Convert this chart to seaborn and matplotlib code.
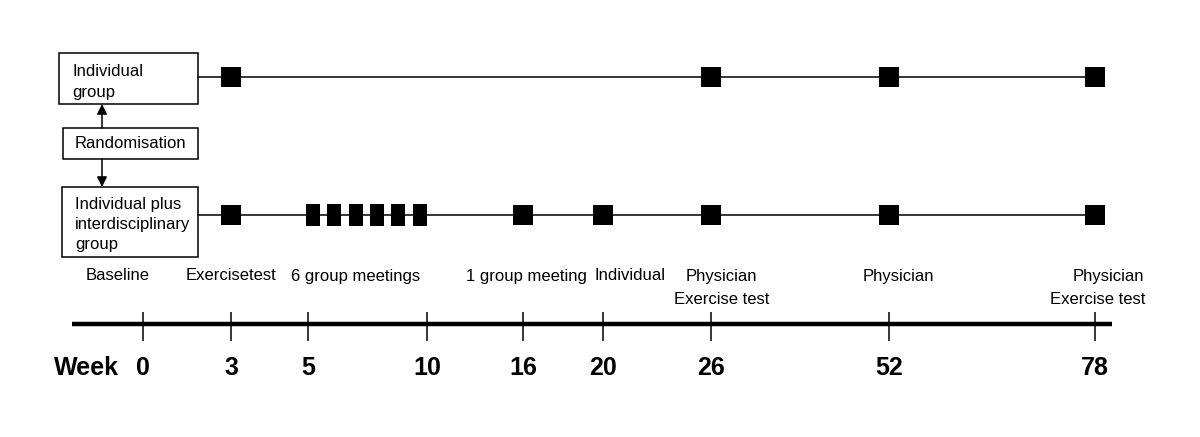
"""
Study design timeline: two randomised arms with visits plotted along a week axis.
Saves out.png.
"""

import numpy as np
import pandas as pd
import matplotlib.pyplot as plt
import seaborn as sns
from matplotlib.patches import Rectangle
from matplotlib.path import Path

# --- data -------------------------------------------------------------------
week_ticks = [0, 3, 5, 10, 16, 20, 26, 52, 78]
individual_visits = [3, 26, 52, 78]
combined_visits = [3, 16, 20, 26, 52, 78]
group_meetings = [5.2, 6.1, 7.0, 7.9, 8.8, 9.7]

event_labels = ["Baseline", "Exercisetest", "6 group meetings", "1 group meeting",
                "Individual", "Physician", "Physician", "Physician"]
event_weeks = [0, 3, 5, 16, 20, 26, 52, 78]
second_labels = ["Exercise test", "Exercise test"]
second_weeks = [26, 78]

box_labels = [["Individual", "group"],
              ["Randomisation"],
              ["Individual plus", "interdisciplinary", "group"]]

# --- layout -----------------------------------------------------------------
# the week axis is not linear: pixel position of each tick week on the canvas
tick_px = [143, 231, 308, 427, 523, 603, 711, 889, 1095]
event_dx = [-25, 0, 48, 3, 27, 10, 9, 13]   # label nudges, pixels
second_dx = [11, 3]

W = np.array(week_ticks, dtype=float)
P = np.array(tick_px, dtype=float)
lo_slope = (P[1] - P[0]) / (W[1] - W[0])
hi_slope = (P[-1] - P[-2]) / (W[-1] - W[-2])
W_ext = np.r_[W[0] - 20, W, W[-1] + 40]
P_ext = np.r_[P[0] - 20 * lo_slope, P, P[-1] + 40 * hi_slope]


def week_to_px(w):
    return np.interp(w, W_ext, P_ext)


def px_to_week(p):
    return np.interp(p, P_ext, W_ext)


Y_TOP, Y_BOTTOM = 77, 215
Y_EVENT, Y_EVENT2 = 276, 300
Y_AXIS, Y_WEEK = 324, 368
WEEK_FONT = dict(fontsize=18, fontweight="bold",
                 family=["Liberation Sans Narrow", "Liberation Sans"])

sns.set_theme(style="white")
plt.rcParams["font.family"] = ["Liberation Sans", "DejaVu Sans"]
plt.rcParams["text.color"] = "black"

fig = plt.figure(figsize=(12, 4.37), dpi=100)
ax = fig.add_axes([0, 0, 1, 1])
ax.set_xscale("function", functions=(week_to_px, px_to_week))

# arm lines, starting at the right edge of the boxes
line_start = px_to_week(198)
ax.plot([line_start, 78], [Y_TOP, Y_TOP], color="black", lw=1.1, zorder=1)
ax.plot([line_start, 78], [Y_BOTTOM, Y_BOTTOM], color="black", lw=1.1, zorder=1)

top_df = pd.DataFrame({"week": individual_visits, "y": Y_TOP})
bottom_df = pd.DataFrame({"week": combined_visits, "y": Y_BOTTOM})
meet_df = pd.DataFrame({"week": group_meetings, "y": Y_BOTTOM})

sns.scatterplot(data=top_df, x="week", y="y", marker="s", s=228,
                color="black", linewidth=0, legend=False, ax=ax, zorder=3)
sns.scatterplot(data=bottom_df, x="week", y="y", marker="s", s=228,
                color="black", linewidth=0, legend=False, ax=ax, zorder=3)
tall = Path([(-0.3, -0.5), (0.3, -0.5), (0.3, 0.5), (-0.3, 0.5), (-0.3, -0.5)],
            [Path.MOVETO, Path.LINETO, Path.LINETO, Path.LINETO, Path.CLOSEPOLY])
sns.scatterplot(data=meet_df, x="week", y="y", marker=tall, s=250,
                color="black", linewidth=0, legend=False, ax=ax, zorder=3)

# event labels
for label, w, dx in zip(event_labels, event_weeks, event_dx):
    ax.annotate(label, xy=(w, Y_EVENT), xytext=(dx, 0), textcoords="offset pixels",
                ha="center", va="center", fontsize=12)
for label, w, dx in zip(second_labels, second_weeks, second_dx):
    ax.annotate(label, xy=(w, Y_EVENT2), xytext=(dx, 0), textcoords="offset pixels",
                ha="center", va="center", fontsize=12)

# week axis
ax.hlines(Y_AXIS, px_to_week(72), px_to_week(1112), color="black", lw=3.2)
ax.vlines(week_ticks, Y_AXIS - 12, Y_AXIS + 17, color="black", lw=1.1)
for w in week_ticks:
    ax.text(w, Y_WEEK, str(w), ha="center", va="center", **WEEK_FONT)

ax.set_xlim(px_to_week(0), px_to_week(1200))
ax.set_ylim(437, 0)
ax.axis("off")

# boxes and arrows in plain pixel coordinates
ax_px = fig.add_axes([0, 0, 1, 1])
ax_px.patch.set_alpha(0)
ax_px.set_xlim(0, 1200)
ax_px.set_ylim(437, 0)
ax_px.axis("off")

boxes = [(59, 53, 139, 51), (63, 128, 135, 31), (62, 187, 136, 70)]
text_x = [72, 75, 75]
text_y = [[71, 93], [144], [205, 225, 245]]
for (x0, y0, w, h), tx, ys, lines in zip(boxes, text_x, text_y, box_labels):
    ax_px.add_patch(Rectangle((x0, y0), w, h, fill=False, ec="black", lw=1.1))
    for ty, line in zip(ys, lines):
        ax_px.text(tx, ty, line, ha="left", va="center", fontsize=12)

arrow = dict(arrowstyle="-|>", color="black", lw=1.1,
             shrinkA=0, shrinkB=0, mutation_scale=15)
ax_px.annotate("", xy=(102, 104), xytext=(102, 128), arrowprops=arrow)
ax_px.annotate("", xy=(102, 187), xytext=(102, 159), arrowprops=arrow)

ax_px.text(86, Y_WEEK, "Week", ha="center", va="center", **WEEK_FONT)

fig.savefig("out.png", dpi=100)
plt.close(fig)
